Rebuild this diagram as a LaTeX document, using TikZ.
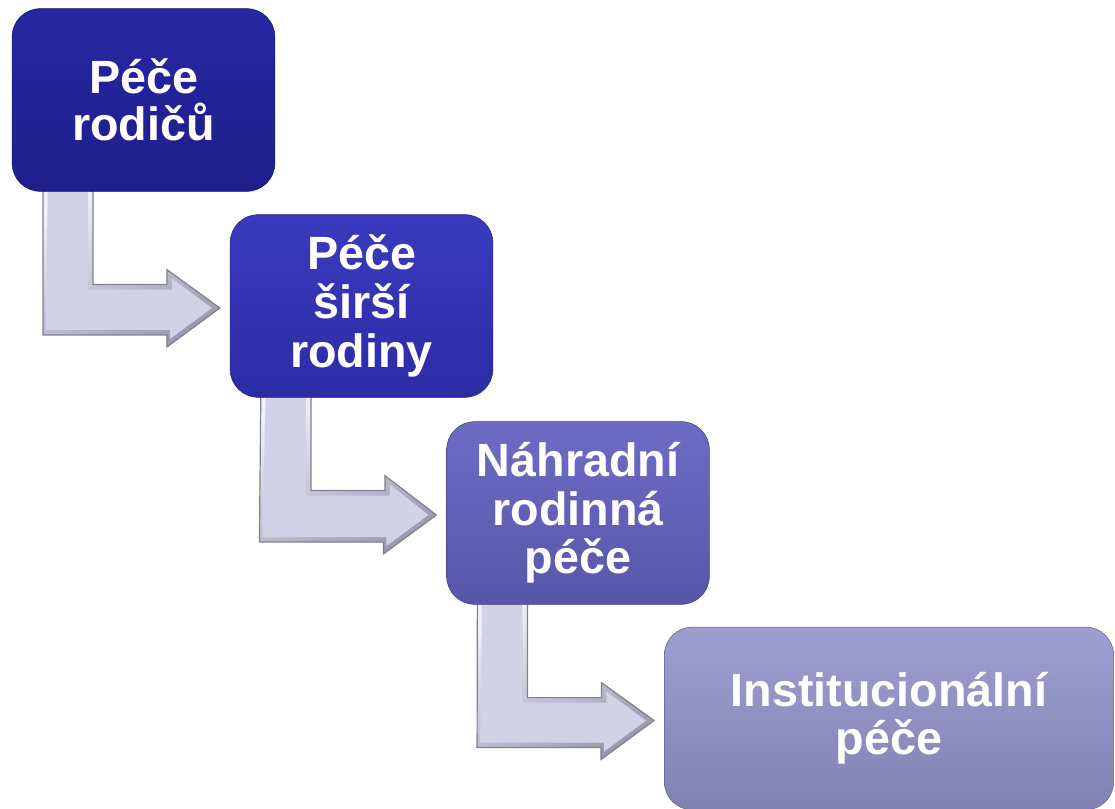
\documentclass[tikz,border=0pt]{standalone}
\usepackage{fontspec}
\setmainfont{Liberation Sans}
\usetikzlibrary{calc,backgrounds}
\definecolor{c1t}{HTML}{2727A2}
\definecolor{c1b}{HTML}{1E1E8C}
\definecolor{c2t}{HTML}{3A3ABE}
\definecolor{c2b}{HTML}{2C2CA6}
\definecolor{c3t}{HTML}{6C6CC4}
\definecolor{c3b}{HTML}{5656AA}
\definecolor{c4t}{HTML}{9E9ED0}
\definecolor{c4b}{HTML}{8282B2}
\definecolor{arrfill}{HTML}{D2D2E6}
\definecolor{arrlight}{HTML}{F0F0F8}
\definecolor{arrdark}{HTML}{9A9AB2}
\definecolor{arredge}{HTML}{80808F}
\tikzset{
  box/.style={rounded corners=21pt, inner sep=0pt, align=center, text=white,
    font=\fontsize{35}{36.5}\selectfont\bfseries,
    minimum width=197pt, minimum height=137pt},
  arrowouter/.style={draw=arredge, line width=0.9pt, line join=miter,
    top color=arrlight, bottom color=arrdark, shading angle=30},
  arrowinner/.style={fill=arrfill}
}
\begin{document}
\begin{tikzpicture}[x=0.75pt, y=-0.75pt]
\useasboundingbox (0,0) rectangle (1115,809);
\node[box, top color=c1t, bottom color=c1b, draw=c1b!75!black,
      font=\fontsize{35}{35}\selectfont\bfseries] (b1) at (143.5,100) {Péče\\rodičů};
\node[box, top color=c2t, bottom color=c2b, draw=c2b!75!black] (b2) at (361.5,306) {Péče\\širší\\rodiny};
\node[box, top color=c3t, bottom color=c3b, draw=c3b!75!black] (b3) at (578,513) {Náhradní\\rodinná\\péče};
\node[box, minimum width=337pt, top color=c4t, bottom color=c4b, draw=c4b!75!black,
      font=\fontsize{35}{36}\selectfont\bfseries] (b4) at (889,718.5) {Institucionální\\péče};
\begin{scope}[on background layer]
\foreach \a/\b in {b1/b2, b2/b3, b3/b4}{
  \path[arrowouter] ($(\a.south west)+(31,-10)$) -- ++(50,0) -- ++(0,103) -- ++(74,0)
     -- ++(0,-15) -- ($(\b.west)+(-10,2)$) -- ++(-53,39) -- ++(0,-12) -- ++(-124,0) -- cycle;
  \path[arrowinner] ($(\a.south west)+(36,-10)$) -- ++(40,0) -- ++(0,108) -- ++(84,0)
     -- ++(0,-11) -- ($(\b.west)+(-18,2)$) -- ++(-42,31) -- ++(0,-9) -- ++(-124,0) -- cycle;
}
\end{scope}
\end{tikzpicture}
\end{document}
